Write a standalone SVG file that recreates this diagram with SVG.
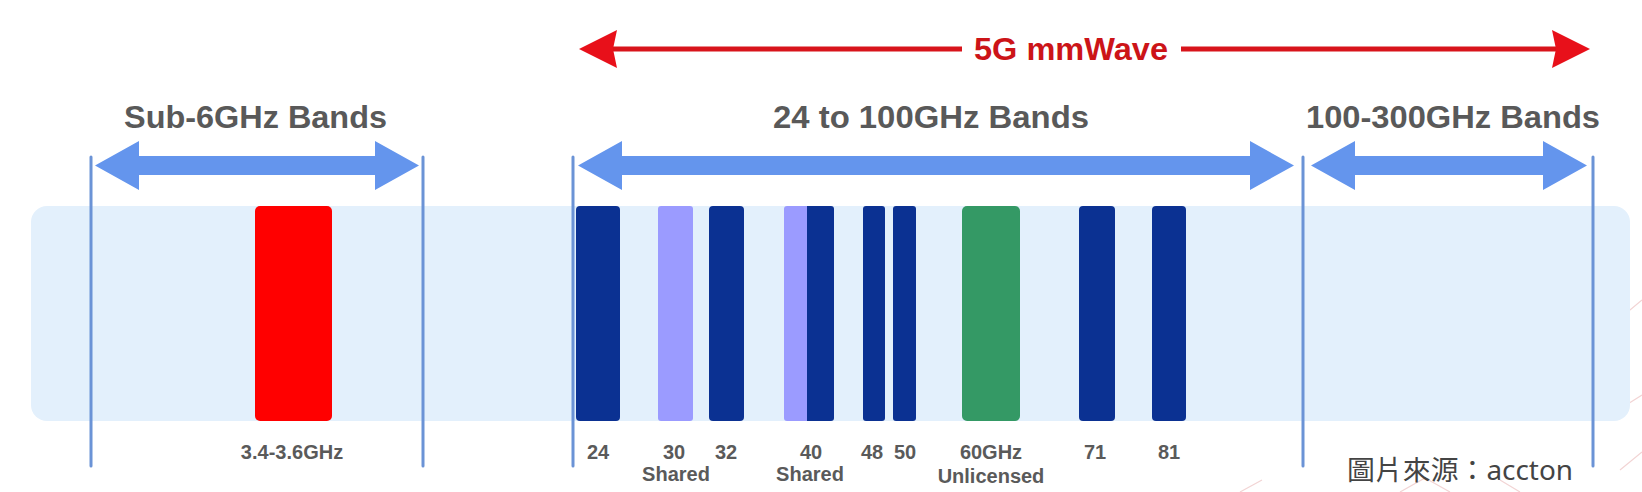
<svg xmlns="http://www.w3.org/2000/svg" width="1642" height="492" viewBox="0 0 1642 492">
<style>
.title{font-family:"Liberation Sans",Arial,sans-serif;font-weight:bold;font-size:32px;fill:#595959}
.lbl{font-family:"Liberation Sans",Arial,sans-serif;font-weight:bold;font-size:20px;fill:#5a5a5a;text-anchor:middle}
.vline{stroke:#6b93d6;stroke-width:3;stroke-linecap:round}
.barrow{fill:#6495ed}
.navy{fill:#0b3192}
.lav{fill:#9b9bff}
.red{fill:#d8141b}
.deco{stroke:#f2d4d4;stroke-width:1.2;fill:none}
</style>
<rect width="1642" height="492" fill="#ffffff"/>
<g id="decoration">
<path class="deco" d="M1642 300 L1612 325 M1642 395 L1615 412 M1620 470 L1642 452 M1400 492 L1425 478 L1450 492 M1240 492 L1262 480 M1500 480 L1520 492"/>
</g>
<g id="band-background">
<rect x="31" y="206" width="1599" height="215" rx="16" fill="#e3f0fc"/>
</g>
<g id="connectors">
<line class="vline" x1="91" y1="157" x2="91" y2="466"/>
<line class="vline" x1="423" y1="157" x2="423" y2="466"/>
<line class="vline" x1="573" y1="157" x2="573" y2="466"/>
<line class="vline" x1="1303" y1="157" x2="1303" y2="466"/>
<line class="vline" x1="1593" y1="157" x2="1593" y2="466"/>
<polygon class="barrow" points="95,165.5 139,141 139,156 375,156 375,141 419,165.5 375,190 375,175 139,175 139,190"/>
<polygon class="barrow" points="578,165.5 622,141 622,156 1250,156 1250,141 1294,165.5 1250,190 1250,175 622,175 622,190"/>
<polygon class="barrow" points="1311,165.5 1355,141 1355,156 1543,156 1543,141 1587,165.5 1543,190 1543,175 1355,175 1355,190"/>
<rect class="red" x="612" y="46.5" width="350" height="5"/>
<rect class="red" x="1181" y="46.5" width="375" height="5"/>
<polygon points="579,49 617,30 613,49 617,68" fill="#e8101a"/>
<polygon points="1590,49 1552,30 1556,49 1552,68" fill="#e8101a"/>
</g>
<g id="mmwave-title">
<text x="974" y="60" font-family="'Liberation Sans',Arial,sans-serif" font-weight="bold" font-size="31" fill="#cc1418" textLength="194" lengthAdjust="spacingAndGlyphs">5G mmWave</text>
</g>
<g id="sub6-title"><text class="title" x="124" y="128" textLength="263" lengthAdjust="spacingAndGlyphs">Sub-6GHz Bands</text></g>
<g id="mmw-title"><text class="title" x="773" y="128" textLength="316" lengthAdjust="spacingAndGlyphs">24 to 100GHz Bands</text></g>
<g id="thz-title"><text class="title" x="1306" y="128" textLength="294" lengthAdjust="spacingAndGlyphs">100-300GHz Bands</text></g>
<g id="band-3.5"><rect x="255" y="206" width="77" height="215" rx="5" fill="#ff0000"/><text class="lbl" x="292" y="459">3.4-3.6GHz</text></g>
<g id="band-24"><rect class="navy" x="576" y="206" width="44" height="215" rx="4"/><text class="lbl" x="598" y="459">24</text></g>
<g id="band-30"><rect class="lav" x="658" y="206" width="35" height="215" rx="3"/><text class="lbl" x="674" y="459">30</text><text class="lbl" x="676" y="481">Shared</text></g>
<g id="band-32"><rect class="navy" x="709" y="206" width="35" height="215" rx="4"/><text class="lbl" x="726" y="459">32</text></g>
<g id="band-40"><rect class="lav" x="784" y="206" width="26" height="215" rx="3"/><rect class="navy" x="807" y="206" width="27" height="215" rx="3"/><rect class="navy" x="807" y="206" width="5" height="215"/><text class="lbl" x="811" y="459">40</text><text class="lbl" x="810" y="481">Shared</text></g>
<g id="band-48"><rect class="navy" x="863" y="206" width="22" height="215" rx="3"/><text class="lbl" x="872" y="459">48</text></g>
<g id="band-50"><rect class="navy" x="893" y="206" width="23" height="215" rx="3"/><text class="lbl" x="905" y="459">50</text></g>
<g id="band-60"><rect x="962" y="206" width="58" height="215" rx="5" fill="#349965"/><text class="lbl" x="991" y="459">60GHz</text><text class="lbl" x="991" y="483">Unlicensed</text></g>
<g id="band-71"><rect class="navy" x="1079" y="206" width="36" height="215" rx="4"/><text class="lbl" x="1095" y="459">71</text></g>
<g id="band-81"><rect class="navy" x="1152" y="206" width="34" height="215" rx="4"/><text class="lbl" x="1169" y="459">81</text></g>
<g id="source">
<text x="1347" y="480" font-family="'Noto Sans','Noto Sans CJK TC',sans-serif" font-size="27.5" fill="#444444" textLength="226" lengthAdjust="spacingAndGlyphs">圖片來源：accton</text>
</g>
</svg>
